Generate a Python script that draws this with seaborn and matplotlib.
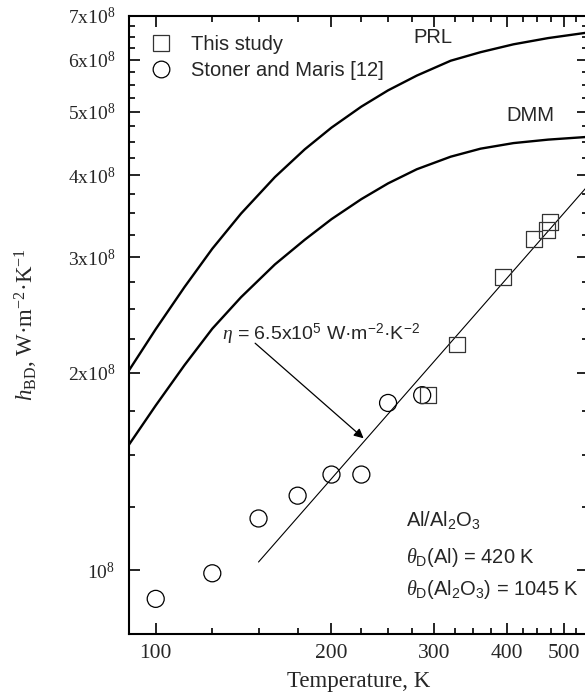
import matplotlib
matplotlib.use("Agg")
import matplotlib.pyplot as plt
from matplotlib.lines import Line2D
from matplotlib.ticker import FixedLocator, NullFormatter
import seaborn as sns
import pandas as pd

# Model curves (PRL and DMM)
curve_T = [90, 100, 112, 125, 140, 160, 180, 200, 225, 250, 280, 320, 360, 410, 470, 550]
prl_h = [2.018e8, 2.332e8, 2.703e8, 3.093e8, 3.499e8, 3.977e8, 4.384e8, 4.731e8,
         5.093e8, 5.392e8, 5.679e8, 5.983e8, 6.165e8, 6.338e8, 6.478e8, 6.606e8]
dmm_h = [1.555e8, 1.784e8, 2.055e8, 2.336e8, 2.609e8, 2.927e8, 3.192e8, 3.431e8,
         3.681e8, 3.890e8, 4.088e8, 4.272e8, 4.394e8, 4.481e8, 4.536e8, 4.580e8]

# Measurements
study_T = [293, 328, 393, 445, 468, 474]
study_h = [1.85e8, 2.21e8, 2.80e8, 3.20e8, 3.30e8, 3.40e8]
stoner_T = [100, 125, 150, 175, 200, 225, 250, 286]
stoner_h = [0.905e8, 0.99e8, 1.20e8, 1.30e8, 1.40e8, 1.40e8, 1.80e8, 1.85e8]

# Linear fit h = eta * T
fit_T = [150, 550]
fit_h = [1.03e8, 3.86e8]

x_major = [100, 200, 300, 400, 500]
x_labels = ["100", "200", "300", "400", "500"]
y_major = [1e8, 2e8, 3e8, 4e8, 5e8, 6e8, 7e8]
y_labels = [r"$10^{8}$", r"$2\mathrm{x}10^{8}$", r"$3\mathrm{x}10^{8}$", r"$4\mathrm{x}10^{8}$",
            r"$5\mathrm{x}10^{8}$", r"$6\mathrm{x}10^{8}$", r"$7\mathrm{x}10^{8}$"]
x_minor = [t for t in range(100, 551, 25) if t % 100 != 0]
y_minor = [v * 0.25e8 for v in range(4, 29) if v % 4 != 0]

sns.set_style("ticks")
plt.rcParams["font.family"] = ["Liberation Sans", "DejaVu Sans"]
plt.rcParams["mathtext.fontset"] = "custom"
plt.rcParams["mathtext.rm"] = "Liberation Serif"
plt.rcParams["mathtext.it"] = "Liberation Serif:italic"
plt.rcParams["mathtext.sf"] = "Liberation Sans"
plt.rcParams["mathtext.bf"] = "Liberation Serif:bold"

fig = plt.figure(figsize=(5.85, 6.97), dpi=100)
ax = fig.add_axes([129 / 585, 63 / 697, 459 / 585, 618 / 697])
ax.set_xscale("log")
ax.set_yscale("log")

curves = pd.concat([
    pd.DataFrame({"T": curve_T, "h": prl_h, "model": "PRL"}),
    pd.DataFrame({"T": curve_T, "h": dmm_h, "model": "DMM"}),
])
sns.lineplot(data=curves, x="T", y="h", units="model", estimator=None, sort=False,
             color="black", lw=1.7, ax=ax, legend=False)
sns.lineplot(x=fit_T, y=fit_h, color="black", lw=0.8, ax=ax, legend=False)

sns.scatterplot(x=stoner_T, y=stoner_h, marker="o", s=150, facecolor="none",
                edgecolor="black", linewidth=0.9, ax=ax, legend=False, zorder=3)
sns.scatterplot(x=study_T, y=study_h, marker="s", s=130, facecolor="none",
                edgecolor="#333333", linewidth=0.9, ax=ax, legend=False, zorder=3)

ax.set_xlim(90, 550)
ax.set_ylim(8.0e7, 7e8)

ax.xaxis.set_major_locator(FixedLocator(x_major))
ax.xaxis.set_minor_locator(FixedLocator(x_minor))
ax.set_xticks(x_major, x_labels)
ax.xaxis.set_minor_formatter(NullFormatter())
ax.yaxis.set_major_locator(FixedLocator(y_major))
ax.yaxis.set_minor_locator(FixedLocator(y_minor))
ax.set_yticks(y_major, y_labels)
ax.yaxis.set_minor_formatter(NullFormatter())

ax.tick_params(which="both", direction="in", top=True, right=True, width=1.2, color="black")
ax.tick_params(which="major", length=8)
ax.tick_params(which="minor", length=4)
ax.tick_params(axis="x", which="major", pad=7, labelsize=15.5)
ax.tick_params(axis="y", which="major", pad=10, labelsize=14)
for lab in ax.get_xticklabels() + ax.get_yticklabels():
    lab.set_family("Liberation Serif")
for sp in ax.spines.values():
    sp.set_linewidth(1.5)
    sp.set_color("black")

ax.set_xlabel("Temperature, K", fontsize=16.5, family="Liberation Serif", labelpad=6)
ax.set_ylabel(r"$h_{\mathrm{BD}}$, W·m$^{-2}$·K$^{-1}$", fontsize=16.5,
              family="Liberation Serif", labelpad=20)

ax.text(298, 6.48e8, "PRL", fontsize=14.5, ha="center", va="center")
ax.text(438, 4.93e8, "DMM", fontsize=14.5, ha="center", va="center")
ax.text(130, 2.29e8, r"$\eta$ = 6.5x10$^{\mathsf{5}}$ W·m$^{\mathsf{-2}}$·K$^{\mathsf{-2}}$",
        fontsize=14, ha="left", va="center")
ax.annotate("", xy=(227, 1.59e8), xytext=(148, 2.22e8),
            arrowprops=dict(arrowstyle="-|>", color="black", lw=0.9,
                            mutation_scale=14, shrinkA=0, shrinkB=0))

ax.text(268, 1.195e8, r"Al/Al$_{\mathsf{2}}$O$_{\mathsf{3}}$", fontsize=14.5, ha="left", va="center")
ax.text(268, 1.046e8, r"$\theta_{\mathsf{D}}$(Al) = 420 K", fontsize=14.5, ha="left", va="center")
ax.text(268, 0.936e8, r"$\theta_{\mathsf{D}}$(Al$_{\mathsf{2}}$O$_{\mathsf{3}}$) = 1045 K",
        fontsize=14.5, ha="left", va="center")

handles = [
    Line2D([], [], ls="none", marker="s", ms=11, mfc="none", mec="#333333", mew=0.9, label="This study"),
    Line2D([], [], ls="none", marker="o", ms=12, mfc="none", mec="black", mew=0.9, label="Stoner and Maris [12]"),
]
ax.legend(handles=handles, loc="upper left", bbox_to_anchor=(0.025, 0.985), frameon=False,
          fontsize=14.5, handlelength=1.0, handletextpad=1.0, labelspacing=0.35,
          borderaxespad=0.0, borderpad=0.5)

fig.savefig("out.png", dpi=100)
